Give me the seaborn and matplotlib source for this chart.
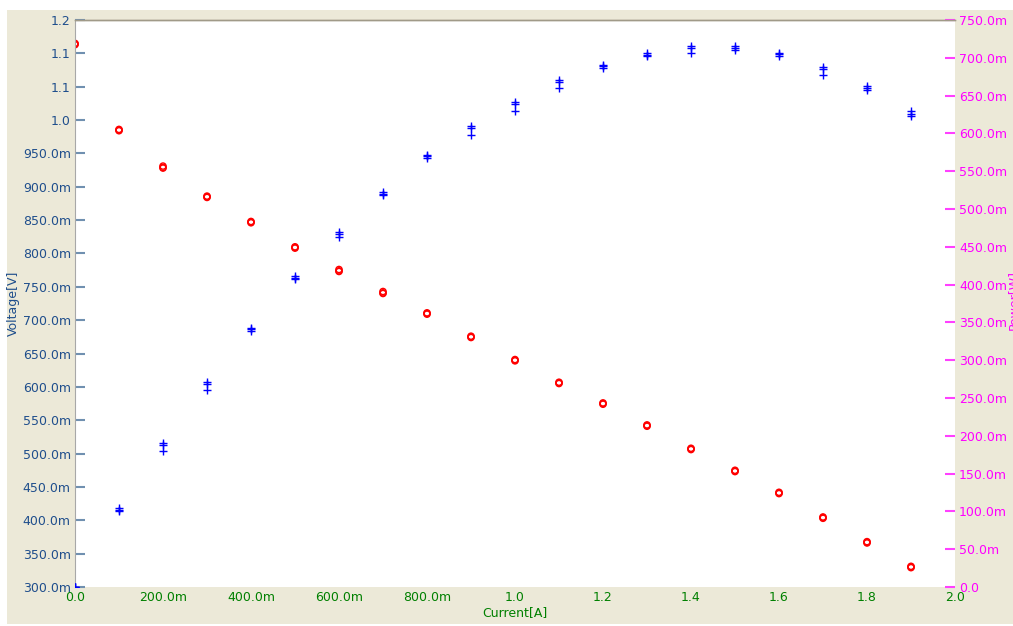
import numpy as np
import pandas as pd
import matplotlib
matplotlib.use("Agg")
import matplotlib.pyplot as plt
import seaborn as sns
from matplotlib.patches import Rectangle

# current sweep points [A]
current = [0.0, 0.1, 0.2, 0.3, 0.4, 0.5, 0.6, 0.7, 0.8, 0.9,
           1.0, 1.1, 1.2, 1.3, 1.4, 1.5, 1.6, 1.7, 1.8, 1.9]

# voltage [V], three repeated sweeps
voltage_a = [1.114, 0.985, 0.929, 0.885, 0.847, 0.809, 0.774, 0.741, 0.710, 0.675,
             0.640, 0.606, 0.575, 0.542, 0.507, 0.474, 0.441, 0.404, 0.367, 0.330]
voltage_b = [1.115, 0.986, 0.931, 0.886, 0.848, 0.810, 0.776, 0.743, 0.711, 0.676,
             0.641, 0.607, 0.576, 0.543, 0.508, 0.475, 0.442, 0.405, 0.368, 0.331]
voltage_c = [1.113, 0.984, 0.928, 0.884, 0.846, 0.808, 0.773, 0.740, 0.709, 0.674,
             0.639, 0.605, 0.574, 0.541, 0.506, 0.473, 0.440, 0.403, 0.366, 0.329]

# power [W], three repeated sweeps (third one has a few low readings)
power_a = [0.000, 0.102, 0.188, 0.268, 0.341, 0.409, 0.467, 0.520, 0.570, 0.607,
           0.639, 0.668, 0.689, 0.704, 0.713, 0.713, 0.705, 0.685, 0.660, 0.626]
power_b = [0.000, 0.104, 0.191, 0.271, 0.343, 0.411, 0.470, 0.523, 0.572, 0.610,
           0.642, 0.671, 0.691, 0.706, 0.716, 0.715, 0.707, 0.688, 0.663, 0.629]
power_c = [0.000, 0.101, 0.180, 0.261, 0.339, 0.407, 0.463, 0.518, 0.568, 0.598,
           0.630, 0.660, 0.687, 0.702, 0.706, 0.710, 0.703, 0.677, 0.658, 0.623]

x_labels = ["0.0", "200.0m", "400.0m", "600.0m", "800.0m", "1.0",
            "1.2", "1.4", "1.6", "1.8", "2.0"]
v_ticks = [0.30, 0.35, 0.40, 0.45, 0.50, 0.55, 0.60, 0.65, 0.70, 0.75,
           0.80, 0.85, 0.90, 0.95, 1.00, 1.05, 1.10, 1.15]
v_labels = ["300.0m", "350.0m", "400.0m", "450.0m", "500.0m", "550.0m", "600.0m",
            "650.0m", "700.0m", "750.0m", "800.0m", "850.0m", "900.0m", "950.0m",
            "1.0", "1.1", "1.1", "1.2"]
p_ticks = [i * 0.05 for i in range(16)]
p_labels = ["0.0"] + [f"{int(round(t * 1000))}.0m" for t in p_ticks[1:]]

df = pd.DataFrame({
    "current": current * 3,
    "voltage": voltage_a + voltage_b + voltage_c,
    "power": power_a + power_b + power_c,
})

sns.set_style("white")
plt.rcParams["font.family"] = ["DejaVu Sans"]

beige = "#ECE9D8"
fig = plt.figure(figsize=(10.13, 6.26), dpi=100, facecolor="white")
fig.patches.append(Rectangle((7 / 1013, 2 / 626), 1 - 7 / 1013, 1 - 12 / 626,
                             transform=fig.transFigure, facecolor=beige,
                             edgecolor="none", zorder=-10))
ax = fig.add_axes([75 / 1013, 1 - 587 / 626, 880 / 1013, 567 / 626])
ax.set_facecolor("white")
ax2 = ax.twinx()

sns.scatterplot(data=df, x="current", y="voltage", ax=ax, marker="o", s=20,
                facecolor="none", edgecolor="#FF0000", linewidth=1.0, clip_on=True)
sns.scatterplot(data=df, x="current", y="power", ax=ax2, marker="+", s=32,
                color="#0000FF", linewidth=1.0, clip_on=True)

ax.set_xlim(0, 2.0)
ax.set_ylim(0.30, 1.15)
ax2.set_ylim(0, 0.75)

blue_txt = "#1F4E8C"
ax.set_xticks(np.linspace(0, 2.0, 11))
ax.set_xticklabels(x_labels, color="#008000", fontsize=9)
ax.set_yticks(v_ticks)
ax.set_yticklabels(v_labels, color=blue_txt, fontsize=9)
ax2.set_yticks(p_ticks)
ax2.set_yticklabels(p_labels, color="#FF00FF", fontsize=9)

ax.tick_params(axis="x", direction="in", length=7, width=1, color="#008000", pad=3)
ax.tick_params(axis="y", direction="in", length=7, width=1.5, color="#7090B0", pad=3)
ax2.tick_params(axis="y", direction="in", length=7, width=1.5, color="#FF40FF", pad=3)

ax.set_xlabel("Current[A]", color="#008000", fontsize=9, labelpad=1)
ax.set_ylabel("Voltage[V]", color=blue_txt, fontsize=9, labelpad=2)
ax2.set_ylabel("")
# the reference shows this axis title partly cut off at the right edge
fig.text(1007 / 1013, 0.52, "Power[W]", rotation=90, color="#FF00FF",
         fontsize=9, ha="left", va="center")

for a in (ax, ax2):
    for side in ("right", "bottom"):
        a.spines[side].set_visible(False)
    a.spines["left"].set_color("#A8A8A8")
    a.spines["top"].set_color("#A09A88")
    a.spines["top"].set_linewidth(1.0)
ax2.spines["left"].set_visible(False)
ax.grid(False)
ax2.grid(False)

fig.savefig("out.png", dpi=100, facecolor=fig.get_facecolor())
